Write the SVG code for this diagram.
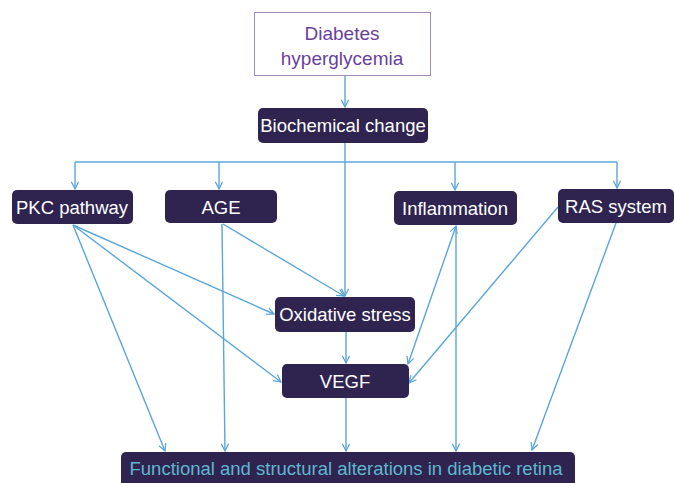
<svg xmlns="http://www.w3.org/2000/svg" width="675" height="483" viewBox="0 0 675 483">
<style>
.box{fill:#2f2450;}
.lbl{font-family:"Liberation Sans",Arial,sans-serif;font-size:18.5px;fill:#ffffff;text-anchor:middle;}
.top{font-family:"Liberation Sans",Arial,sans-serif;font-size:19px;fill:#6a3f9c;text-anchor:middle;}
.bot{font-family:"Liberation Sans",Arial,sans-serif;font-size:18.5px;fill:#5fb6cf;text-anchor:middle;}
.c{stroke:#5ba6d8;stroke-width:1.4;fill:none;}
.a{marker-end:url(#arr);}
.b{marker-start:url(#arrs);marker-end:url(#arr);}
</style>
<defs>
<marker id="arr" viewBox="0 0 10 10" refX="9" refY="5" markerWidth="9" markerHeight="9" markerUnits="userSpaceOnUse" orient="auto">
<path d="M1,1 L9,5 L1,9" fill="none" stroke="#5ba6d8" stroke-width="1.4"/>
</marker>
<marker id="arrs" viewBox="0 0 10 10" refX="1" refY="5" markerWidth="9" markerHeight="9" markerUnits="userSpaceOnUse" orient="auto">
<path d="M9,1 L1,5 L9,9" fill="none" stroke="#5ba6d8" stroke-width="1.4"/>
</marker>
</defs>
<g id="connectors">
<line class="c a" x1="345" y1="76" x2="345" y2="107"/>
<polyline class="c" points="75,162 617,162"/>
<line class="c a" x1="75" y1="162" x2="75" y2="189"/>
<line class="c a" x1="219" y1="162" x2="219" y2="189"/>
<line class="c a" x1="455" y1="162" x2="455" y2="190"/>
<line class="c a" x1="617" y1="162" x2="617" y2="188"/>
<line class="c a" x1="345" y1="143" x2="345" y2="296"/>
<line class="c a" x1="73" y1="225" x2="274" y2="314"/>
<line class="c a" x1="73" y1="225" x2="281" y2="382"/>
<line class="c a" x1="73" y1="225" x2="165" y2="451"/>
<line class="c a" x1="222" y1="224" x2="225" y2="451"/>
<line class="c a" x1="223" y1="224" x2="344" y2="296"/>
<line class="c a" x1="346" y1="332" x2="346" y2="363"/>
<line class="c b" x1="408" y1="364" x2="456" y2="226"/>
<line class="c a" x1="456" y1="226" x2="456" y2="451"/>
<line class="c a" x1="558" y1="207" x2="409" y2="383"/>
<line class="c a" x1="616" y1="223" x2="532" y2="450"/>
<line class="c a" x1="346" y1="398" x2="346" y2="451"/>
</g>
<g id="diabetes">
<rect x="254.5" y="12.5" width="176" height="63" fill="#ffffff" stroke="#a58bb2" stroke-width="1"/>
<text class="top" x="342" y="40">Diabetes</text>
<text class="top" x="342" y="65">hyperglycemia</text>
</g>
<g id="biochemical">
<rect class="box" x="258" y="108" width="170" height="35" rx="5"/>
<text class="lbl" x="343" y="132">Biochemical change</text>
</g>
<g id="pkc">
<rect class="box" x="12" y="190" width="121" height="34" rx="5"/>
<text class="lbl" x="72" y="214">PKC pathway</text>
</g>
<g id="age">
<rect class="box" x="165" y="190" width="112" height="33" rx="5"/>
<text class="lbl" x="221" y="214">AGE</text>
</g>
<g id="inflammation">
<rect class="box" x="394" y="191" width="123" height="34" rx="5"/>
<text class="lbl" x="455" y="215">Inflammation</text>
</g>
<g id="ras">
<rect class="box" x="558" y="189" width="116" height="34" rx="5"/>
<text class="lbl" x="616" y="213">RAS system</text>
</g>
<g id="oxidative">
<rect class="box" x="275" y="297" width="140" height="35" rx="5"/>
<text class="lbl" x="345" y="321">Oxidative stress</text>
</g>
<g id="vegf">
<rect class="box" x="282" y="364" width="127" height="34" rx="5"/>
<text class="lbl" x="345" y="388">VEGF</text>
</g>
<g id="retina">
<rect class="box" x="121" y="452" width="454" height="40" rx="5"/>
<text class="bot" x="346" y="475">Functional and structural alterations in diabetic retina</text>
</g>
</svg>
